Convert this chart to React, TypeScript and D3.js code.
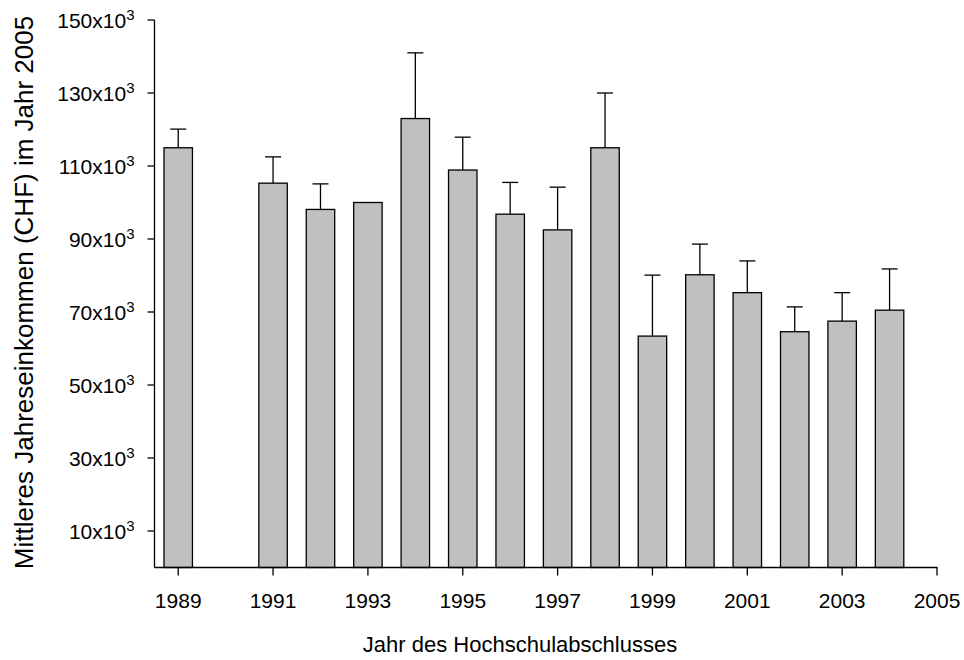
import React from "react";
import * as d3 from "d3";

const years = [1989, 1991, 1992, 1993, 1994, 1995, 1996, 1997, 1998, 1999, 2000, 2001, 2002, 2003, 2004];
const means = [115000, 105300, 98100, 100000, 123000, 108900, 96800, 92500, 115000, 63400, 80200, 75300, 64600, 67500, 70500];
const upper = [120100, 112500, 105100, null, 141000, 117900, 105500, 104200, 130000, 80100, 88600, 84000, 71400, 75300, 81800];
const yTicks = [10, 30, 50, 70, 90, 110, 130, 150];
const xTicks = [1989, 1991, 1993, 1995, 1997, 1999, 2001, 2003, 2005];

const W = 964;
const H = 660;
const FONT = "'Liberation Sans', Arial, sans-serif";

export default function App() {
  const x = d3.scaleLinear().domain([1988.5, 2005]).range([154.5, 937]);
  const y = d3.scaleLinear().domain([0, 150000]).range([567.5, 20]);
  const barW = x(1989.6) - x(1989);
  const capW = 16;

  return (
    <svg width={W} height={H} style={{ position: "absolute", left: 0, top: 0, background: "#fff" }}>
      <g>
        {years.map((yr, i) => {
          const cx = x(yr);
          const top = y(means[i]);
          const up = upper[i];
          return (
            <g key={yr}>
              {up !== null && (
                <g stroke="#000" strokeWidth={1.3}>
                  <line x1={cx} x2={cx} y1={top} y2={y(up)} />
                  <line x1={cx - capW / 2} x2={cx + capW / 2} y1={y(up)} y2={y(up)} />
                </g>
              )}
              <rect
                x={cx - barW / 2}
                y={top}
                width={barW}
                height={y(0) - top}
                fill="#c0c0c0"
                stroke="#000"
                strokeWidth={1.3}
              />
            </g>
          );
        })}
      </g>
      {/* Y axis */}
      <line x1={154.5} x2={154.5} y1={y(150000)} y2={y(0)} stroke="#000" strokeWidth={1.3} />
      {yTicks.map((t) => (
        <g key={t}>
          <line x1={147.5} x2={154.5} y1={y(t * 1000)} y2={y(t * 1000)} stroke="#000" strokeWidth={1.3} />
          <text
            x={134.5}
            y={y(t * 1000) + 7.5}
            textAnchor="end"
            fontFamily={FONT}
            fontSize={21}
            fill="#000"
          >
            {t}x10
            <tspan fontSize={15} dy={-8}>3</tspan>
          </text>
        </g>
      ))}
      {/* X axis */}
      <line x1={154.5} x2={937.5} y1={y(0)} y2={y(0)} stroke="#000" strokeWidth={1.3} />
      {xTicks.map((t) => (
        <g key={t}>
          <line x1={x(t)} x2={x(t)} y1={y(0)} y2={y(0) + 8} stroke="#000" strokeWidth={1.3} />
          <text x={x(t)} y={608} textAnchor="middle" fontFamily={FONT} fontSize={21} fill="#000">
            {t}
          </text>
        </g>
      ))}
      <text x={520} y={652} textAnchor="middle" fontFamily={FONT} fontSize={22} fill="#000">
        Jahr des Hochschulabschlusses
      </text>
      <text
        transform={`translate(33, 292.5) rotate(-90)`}
        textAnchor="middle"
        fontFamily={FONT}
        fontSize={26}
        fill="#000"
      >
        Mittleres Jahreseinkommen (CHF) im Jahr 2005
      </text>
    </svg>
  );
}
